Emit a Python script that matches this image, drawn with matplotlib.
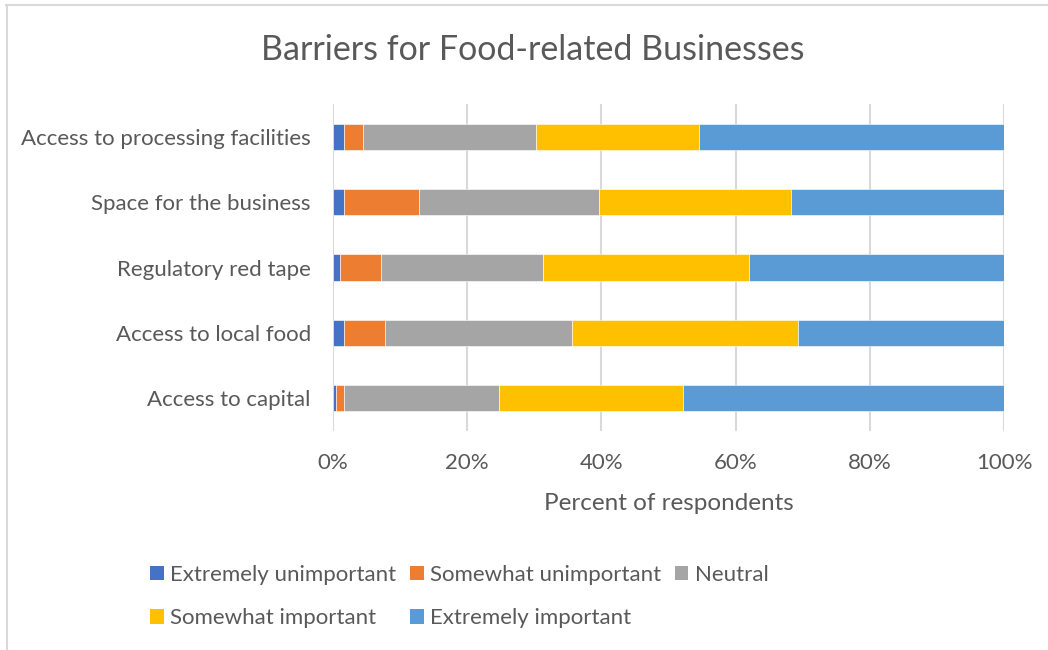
import matplotlib
matplotlib.use("Agg")
import matplotlib.pyplot as plt
from matplotlib.patches import Patch
from matplotlib.lines import Line2D
import numpy as np

plt.rcParams['font.family'] = ['Lato', 'DejaVu Sans']

# Survey data (percent of respondents), bottom row first
categories = ["Access to capital", "Access to local food", "Regulatory red tape",
              "Space for the business", "Access to processing facilities"]
levels = ["Extremely unimportant", "Somewhat unimportant", "Neutral",
          "Somewhat important", "Extremely important"]
extremely_unimportant = [0.4, 1.6, 1.0, 1.6, 1.6]
somewhat_unimportant = [1.2, 6.2, 6.2, 11.2, 2.8]
neutral = [23.1, 27.8, 24.1, 26.8, 25.9]
somewhat_important = [27.5, 33.7, 30.7, 28.6, 24.2]
extremely_important = [47.8, 30.7, 38.0, 31.8, 45.5]
x_ticks = [0, 20, 40, 60, 80, 100]
x_tick_labels = ["0%", "20%", "40%", "60%", "80%", "100%"]

series = [extremely_unimportant, somewhat_unimportant, neutral,
          somewhat_important, extremely_important]
colors = ["#4472C4", "#ED7D31", "#A5A5A5", "#FFC000", "#5B9BD5"]
text_color = "#595959"
grid_color = "#D9D9D9"

fig = plt.figure(figsize=(10.48, 6.5), dpi=100)
ax = fig.add_axes([333 / 1048, 1 - 431 / 650, (1004 - 333) / 1048, (431 - 104) / 650])

y = np.arange(len(categories))
left = np.zeros(len(categories))
for vals, col, name in zip(series, colors, levels):
    vals = np.array(vals, dtype=float)
    ax.barh(y, vals, left=left, height=0.4, color=col, label=name,
            edgecolor="white", linewidth=0.4, zorder=3)
    left += vals

ax.set_xlim(0, 100)
ax.set_ylim(-0.5, len(categories) - 0.5)
ax.set_xticks(x_ticks)
ax.set_xticklabels(x_tick_labels)
ax.set_yticks(y)
ax.set_yticklabels(categories)
ax.tick_params(axis="both", length=0, labelsize=16, colors=text_color)
ax.tick_params(axis="x", pad=16)
ax.tick_params(axis="y", pad=16)
ax.xaxis.grid(True, color=grid_color, linewidth=1.5, zorder=0)
for s in ax.spines.values():
    s.set_visible(False)
ax.set_xlabel("Percent of respondents", fontsize=17.5, color=text_color, labelpad=14)

fig.text(533 / 1048, 1 - 50 / 650, "Barriers for Food-related Businesses",
         ha="center", va="center", fontsize=24.5, color=text_color)

# Legend: row one EU, SU, Neutral; row two SI, EI (column-major fill)
handles = [Patch(facecolor=c, edgecolor="none") for c in colors]
order = [0, 3, 1, 4, 2]
leg = fig.legend([handles[i] for i in order], [levels[i] for i in order],
                 ncol=3, loc="upper left", bbox_to_anchor=(141 / 1048, 1 - 556 / 650),
                 frameon=False, fontsize=16, handlelength=0.62, handleheight=0.62,
                 handletextpad=0.3, columnspacing=0.6, labelspacing=1.05,
                 borderaxespad=0)
for t in leg.get_texts():
    t.set_color(text_color)

# Chart frame (top and left edges)
fig.add_artist(Line2D([6 / 1048, 1], [1 - 5 / 650, 1 - 5 / 650],
                      transform=fig.transFigure, color=grid_color, linewidth=1.5))
fig.add_artist(Line2D([7 / 1048, 7 / 1048], [0, 1 - 5 / 650],
                      transform=fig.transFigure, color=grid_color, linewidth=1.5))

fig.savefig("out.png", dpi=100)
